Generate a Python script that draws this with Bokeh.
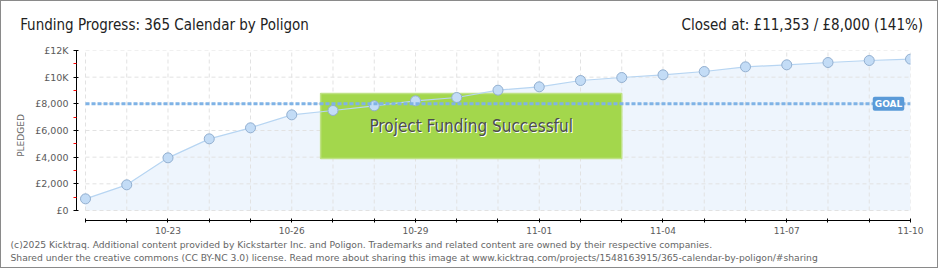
from bokeh.plotting import figure
from bokeh.models import (Range1d, FixedTicker, Label, Title, LinearAxis)
from bokeh.embed import file_html
from bokeh.resources import INLINE

# ---- data ----
dates = ["10-21", "10-22", "10-23", "10-24", "10-25", "10-26", "10-27",
         "10-28", "10-29", "10-30", "10-31", "11-01", "11-02", "11-03",
         "11-04", "11-05", "11-06", "11-07", "11-08", "11-09", "11-10"]
pledged = [875, 1925, 3950, 5375, 6200, 7175, 7500, 7850, 8225, 8475, 9025,
           9275, 9750, 9975, 10175, 10425, 10775, 10925, 11100, 11250, 11353]
goal = 8000
y_ticks = [0, 2000, 4000, 6000, 8000, 10000, 12000]
y_tick_labels = ["£0", "£2,000", "£4,000", "£6,000", "£8,000", "£10K", "£12K"]
y_minor = [1000, 3000, 5000, 7000, 9000, 11000]
x_label_every = 3

title_text = "Funding Progress: 365 Calendar by Poligon"
closed_text = "Closed at:  £11,353 / £8,000 (141%)"
footer1 = ("(c)2025 Kicktraq. Additional content provided by Kickstarter Inc. and Poligon. "
           "Trademarks and related content are owned by their respective companies.")
footer2 = ("Shared under the creative commons (CC BY-NC 3.0) license. Read more about sharing "
           "this image at www.kicktraq.com/projects/1548163915/365-calendar-by-poligon/#sharing")

idx = list(range(len(dates)))

p = figure(width=938, height=268, output_backend="svg", toolbar_location=None,
           x_range=Range1d(-0.218, idx[-1]), y_range=Range1d(-750, 12000),
           min_border_left=75, min_border_right=29, min_border_top=49, min_border_bottom=49,
           styles={"border": "1px solid #8a8a8a"})
p.outline_line_color = None
p.background_fill_color = "white"
p.border_fill_color = "white"
p.xgrid.visible = False
p.ygrid.visible = False

# area under the curve (bottom layer)
p.varea(x=idx, y1=[0] * len(idx), y2=pledged, fill_color="#eef5fd", level="underlay")

# grid lines
grid_kw = dict(line_color="#e2e2e2", line_dash="4 3", line_width=1, level="underlay")
p.segment(x0=[idx[0]] * len(y_ticks), x1=[idx[-1]] * len(y_ticks), y0=y_ticks, y1=y_ticks, **grid_kw)
p.segment(x0=idx, x1=idx, y0=[y_ticks[0]] * len(idx), y1=[y_ticks[-1]] * len(idx), **grid_kw)

# success box (above grid, below the goal line and the points)
p.quad(left=[5.7], right=[13.0], bottom=[3900], top=[8775],
       fill_color="#a3d74c", fill_alpha=1.0, line_color="#bfe285", line_width=1.5,
       level="underlay")

# line and points
p.line(idx, pledged, line_color="#b7d5f2", line_width=1.2)
p.scatter(idx, pledged, size=10, fill_color="#c3dcf6", line_color="#92afd0", line_width=1)

# goal line
p.line([idx[0], idx[-1]], [goal, goal], line_color="#7fb3e6", line_width=3, line_dash="4 2")

msg_kw = dict(x=9.35, y=6340, text="Project Funding Successful", text_align="center",
              text_baseline="middle", text_font="DejaVu Sans Condensed", text_font_size="17px")
p.add_layout(Label(x_offset=1, y_offset=-1, text_color="white", **msg_kw))
p.add_layout(Label(text_color="#4d4d4d", **msg_kw))

p.add_layout(Label(x=idx[-1], y=goal, x_offset=-22, text="GOAL", text_align="center",
                   text_baseline="middle", text_color="white", text_font="DejaVu Sans",
                   text_font_size="9px", text_font_style="bold",
                   background_fill_color="#5a9ad8", padding=2, border_radius=2))

# axes
xa = p.xaxis[0]
xa.bounds = (idx[0], idx[-1])
xa.ticker = FixedTicker(ticks=idx, minor_ticks=[])
xa.major_label_overrides = {i: (dates[i] if i % x_label_every == 2 else "") for i in idx}
xa.axis_line_color = "black"
xa.major_tick_line_color = "black"
xa.major_tick_in = 2
xa.major_tick_out = 2
xa.major_label_text_font = "DejaVu Sans"
xa.major_label_text_font_size = "9px"
xa.major_label_text_color = "#5a5a5a"
xa.major_label_standoff = 4

ya = p.yaxis[0]
ya.bounds = (y_ticks[0], y_ticks[-1])
ya.ticker = FixedTicker(ticks=y_ticks, minor_ticks=y_minor)
ya.major_label_overrides = dict(zip(y_ticks, y_tick_labels))
ya.axis_line_color = "black"
ya.major_tick_line_color = "black"
ya.major_tick_in = 2
ya.major_tick_out = 3
ya.minor_tick_line_color = "red"
ya.minor_tick_in = 0
ya.minor_tick_out = 3
ya.major_label_text_font = "DejaVu Sans"
ya.major_label_text_font_size = "9.5px"
ya.major_label_text_color = "#5a5a5a"
ya.major_label_standoff = 5
ya.axis_label = "PLEDGED"
ya.axis_label_text_font = "DejaVu Sans"
ya.axis_label_text_font_size = "9px"
ya.axis_label_text_font_style = "normal"
ya.axis_label_text_color = "#666666"
ya.axis_label_standoff = 6

# header texts: tick labels of a hidden top axis on a pixel-like range
p.extra_x_ranges = {"px": Range1d(76, 910)}
header_pos = [164, 804]
top = LinearAxis(x_range_name="px",
                 ticker=FixedTicker(ticks=header_pos, minor_ticks=[]),
                 major_label_overrides=dict(zip(header_pos, [title_text, closed_text])),
                 axis_line_color=None, major_tick_line_color=None,
                 minor_tick_line_color=None, major_tick_in=0, major_tick_out=0,
                 major_label_standoff=17, major_label_text_font="DejaVu Sans Condensed",
                 major_label_text_font_size="15px", major_label_text_color="#222222")
p.add_layout(top, "above")

# footer
for t in [footer1, footer2]:
    p.add_layout(Title(text=t, align="left", offset=-66, text_font="DejaVu Sans",
                       text_font_size="9.2px", text_font_style="normal",
                       text_color="#666666", standoff=0), "below")

open("out.html", "w").write(file_html(p, INLINE))
